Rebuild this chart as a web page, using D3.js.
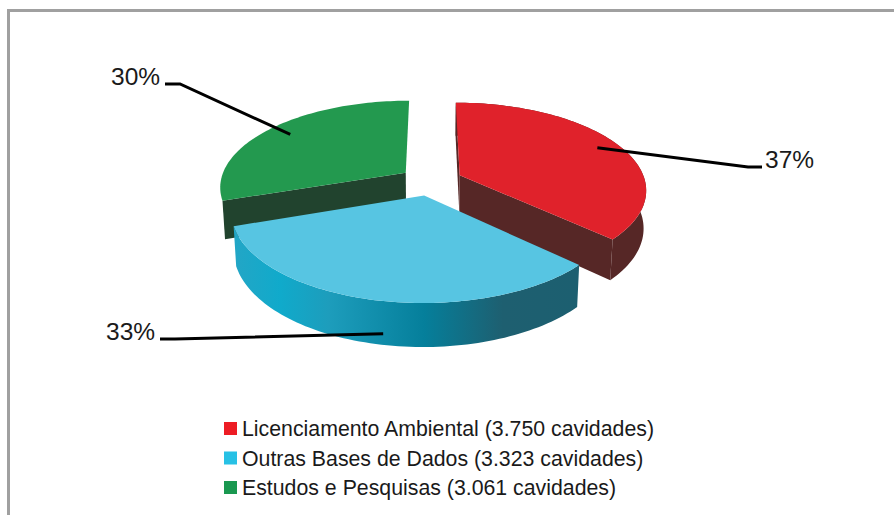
<!DOCTYPE html>
<html>
<head>
<meta charset="utf-8">
<script src="https://d3js.org/d3.v7.min.js"></script>
<style>
html, body { margin: 0; padding: 0; background: #fff; }
svg { display: block; }
text { font-family: "Liberation Sans", Arial, sans-serif; fill: #1a1a1a; }
</style>
</head>
<body>
<div id="chart"></div>
<script>
var categories = ["Licenciamento Ambiental", "Outras Bases de Dados", "Estudos e Pesquisas"];
var cavidades = [3750, 3323, 3061];
var cavidadesLabels = ["3.750", "3.323", "3.061"];

var topColors = ["#e0222b", "#57c5e2", "#23994f"];
var sideColors = ["#562726", "url(#blueRim)", "#21432e"];
var legendColors = ["#ed1c24", "#27c1e5", "#1a9850"];

var width = 894, height = 515;

// pie lives on a ground plane, this maps it to the screen with perspective
var cx = 431, cy = 181;
var rx = 185.5, ry = 85.6, depth = 38;
var persp = 0.156, perspZ = 0.012;
var explode = 0.17;

function project(s, angle, f, z)
{
    var mid = (s.startAngle + s.endAngle) / 2;
    var X = explode * Math.sin(mid) + f * Math.sin(angle);
    var Y = explode * Math.cos(mid) + f * Math.cos(angle);
    var w = 1 + persp * Y + perspZ * z;
    return [cx + rx * X / w, cy + (-ry * Y + depth * z) / w];
}

function arcPoints(s, z)
{
    var n = 80;
    return d3.range(n + 1).map(function(i){
        return project(s, s.startAngle + (s.endAngle - s.startAngle) * i / n, 1, z);
    });
}

var line = d3.line();

var svg = d3.select("#chart").append("svg").attr("width", width).attr("height", height);

// frame, only top and left are in the picture
svg.append("path")
    .attr("d", "M8.5," + height + "V10.5H" + width)
    .attr("fill", "none")
    .attr("stroke", "#a0a0a0")
    .attr("stroke-width", 3);

var blueRim = svg.append("defs").append("linearGradient")
    .attr("id", "blueRim")
    .attr("gradientUnits", "userSpaceOnUse")
    .attr("x1", 236).attr("x2", 578).attr("y1", 0).attr("y2", 0);

[[0, "#22a6c6"], [0.13, "#10aacb"], [0.27, "#1d9dbc"], [0.55, "#057f9b"], [0.78, "#1e5f70"], [1, "#1c5f70"]]
.forEach(function(d){
    blueRim.append("stop").attr("offset", d[0]).attr("stop-color", d[1]);
});

var slices = d3.pie().sort(null)(cavidades);

// which sides of each slice face the viewer
var showRim = [true, true, false];
var showFaces = [["startAngle", "endAngle"], [], ["startAngle"]];

// back to front
var order = [2, 0, 1];

order.forEach(function(i){
    var s = slices[i];
    var g = svg.append("g");

    var rimTop = arcPoints(s, 0);
    if(showRim[i])
    {
        var rimBottom = arcPoints(s, 1).reverse();
        g.append("path")
            .attr("d", line(rimTop.concat(rimBottom)) + "Z")
            .attr("fill", sideColors[i]);
    }

    showFaces[i].forEach(function(key){
        var a = s[key];
        var face = [project(s, a, 0, 0), project(s, a, 1, 0), project(s, a, 1, 1), project(s, a, 0, 1)];
        g.append("path").attr("d", line(face) + "Z").attr("fill", sideColors[i]);
    });

    g.append("path")
        .attr("d", line([project(s, 0, 0, 0)].concat(rimTop)) + "Z")
        .attr("fill", topColors[i]);
});

// leaders: f and z say where on the slice they start, then elbow and end on screen
var leaderStart = [[0.87, 0], [0.87, 1.15], [0.85, 0]];
var leaderElbow = [[748, 167], [175, 339], [180, 84]];
var leaderEnd = [[762, 167], [160, 339], [165, 84]];
var labelPos = [[765, 168], [106, 340], [111, 85]];

slices.forEach(function(s, i){
    var mid = (s.startAngle + s.endAngle) / 2;
    var start = project(s, mid, leaderStart[i][0], leaderStart[i][1]);
    svg.append("path")
        .attr("d", line([start, leaderElbow[i], leaderEnd[i]]))
        .attr("fill", "none")
        .attr("stroke", "#000")
        .attr("stroke-width", 3);

    svg.append("text")
        .attr("x", labelPos[i][0])
        .attr("y", labelPos[i][1])
        .attr("font-size", 24.5)
        .text(d3.format(".0%")(s.value / d3.sum(cavidades)));
});

var legendY = d3.scalePoint().domain(categories).range([428.5, 487.5]);

var legend = svg.selectAll(".legendItem")
    .data(categories)
    .enter()
    .append("g")
    .attr("class", "legendItem")
    .attr("transform", function(d){ return "translate(224," + legendY(d) + ")"; });

legend.append("rect")
    .attr("y", -6.5)
    .attr("width", 13)
    .attr("height", 13)
    .attr("fill", function(d, i){ return legendColors[i]; });

legend.append("text")
    .attr("x", 18)
    .attr("y", 7.5)
    .attr("font-size", 21.3)
    .text(function(d, i){ return d + " (" + cavidadesLabels[i] + " cavidades)"; });
</script>
</body>
</html>
